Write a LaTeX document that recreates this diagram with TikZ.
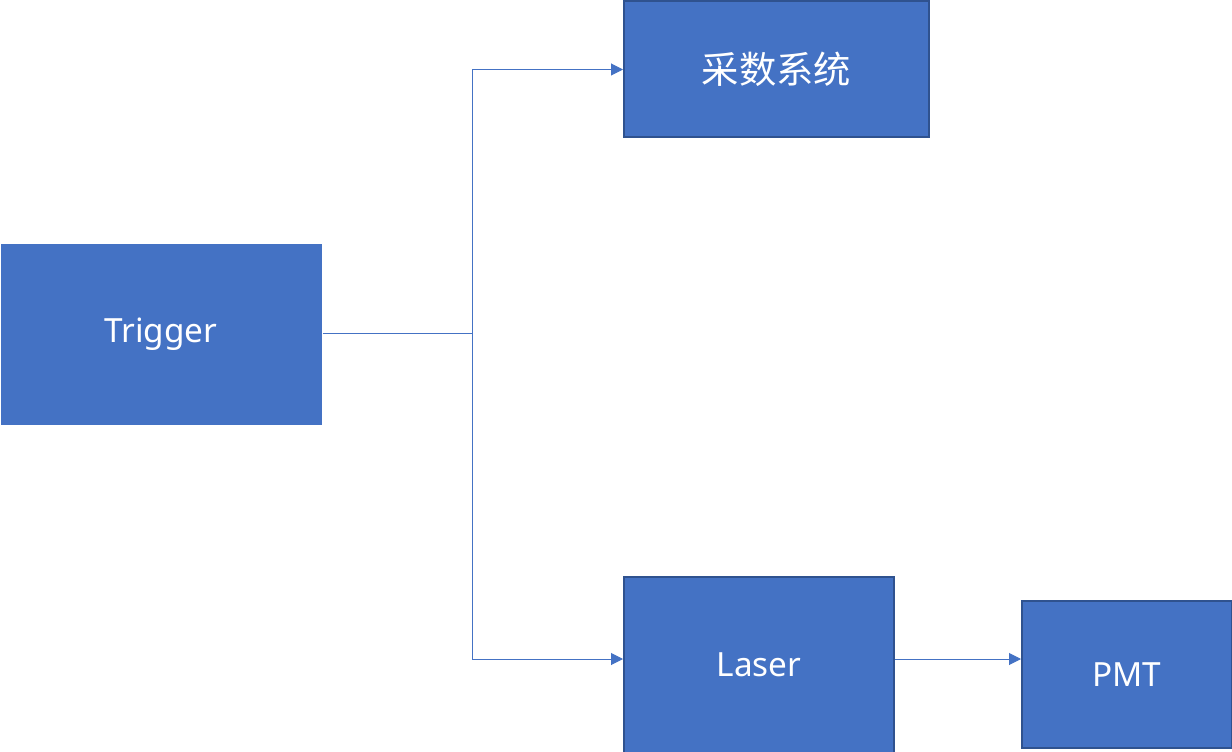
\documentclass[tikz,border=0pt]{standalone}
\usepackage{fontspec}
\setmainfont{Noto Sans}
\newfontfamily\cjk{Noto Sans CJK SC}
\usetikzlibrary{arrows.meta}
\definecolor{boxfill}{HTML}{4472C4}
\definecolor{boxline}{HTML}{2F528F}
\begin{document}
\begin{tikzpicture}[x=0.75pt,y=-0.75pt,
  blk/.style={draw=boxline,line width=1.5pt,fill=boxfill,text=white,inner sep=0pt,anchor=north west,font=\fontsize{25}{29}\selectfont},
  conn/.style={draw=boxfill,line width=0.75pt,-{Triangle[length=9pt,width=9pt]}}]
\useasboundingbox (0,0) rectangle (1232,752);
\node[blk,draw=none,minimum width=321*0.75pt,minimum height=181*0.75pt] (trig) at (-0.5,243) {Trigger};
\node[blk,minimum width=305*0.75pt,minimum height=136*0.75pt,font=\cjk\fontsize{28}{30}\selectfont] (daq) at (623,0.5) {采数系统};
\node[blk,minimum width=270*0.75pt,minimum height=176*0.75pt] (laser) at (623,576) {Laser};
\node[blk,minimum width=210*0.75pt,minimum height=147*0.75pt] (pmt) at (1021,600) {PMT};
\coordinate (j) at (472,334);
\draw[conn] (trig.east |- j) -- (j) |- (daq.west);
\draw[conn] (j) |- (laser.west |- 0,659);
\draw[conn] (laser.east |- 0,659) -- (pmt.west |- 0,659);
\end{tikzpicture}
\end{document}
